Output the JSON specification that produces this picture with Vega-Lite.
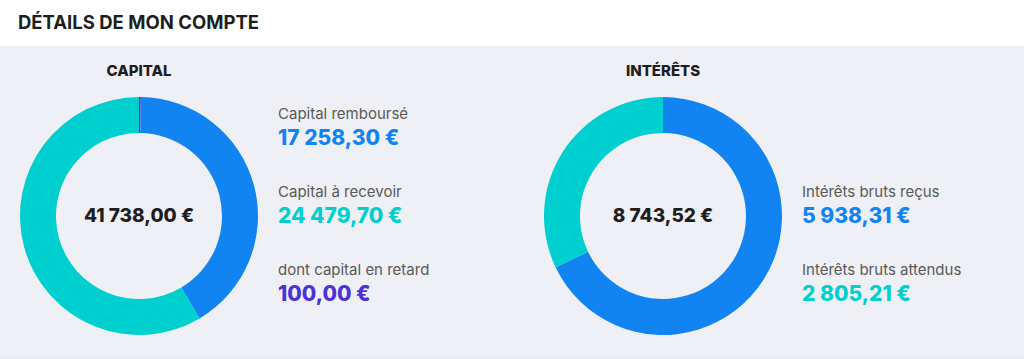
{
  "$schema": "https://vega.github.io/schema/vega-lite/v6.json",
  "background": "#eff0f5",
  "padding": 0,
  "spacing": 0,
  "config": {
    "view": {"stroke": null},
    "concat": {"spacing": 0},
    "font": "Inter",
    "locale": {"number": {"decimal": ",", "thousands": "\u00a0", "grouping": [3], "currency": ["", "\u00a0€"]}}
  },
  "datasets": {
    "header": [{"titre": "DÉTAILS DE MON COMPTE"}],
    "sections": [
      {"section": "capital", "titre": "CAPITAL", "total": 41738.00},
      {"section": "interets", "titre": "INTÉRÊTS", "total": 8743.52}
    ],
    "capital": [
      {"part": "retard", "libelle": "dont capital en retard", "montant": 100.00, "ordre": 1, "ligne": 3},
      {"part": "rembourse", "libelle": "Capital remboursé", "montant": 17258.30, "ordre": 2, "ligne": 1},
      {"part": "recevoir", "libelle": "Capital à recevoir", "montant": 24479.70, "ordre": 3, "ligne": 2}
    ],
    "interets": [
      {"part": "recus", "libelle": "Intérêts bruts reçus", "montant": 5938.31, "ordre": 1, "ligne": 2},
      {"part": "attendus", "libelle": "Intérêts bruts attendus", "montant": 2805.21, "ordre": 2, "ligne": 3}
    ]
  },
  "vconcat": [
    {
      "data": {"name": "header"},
      "width": 1024,
      "height": 46,
      "view": {"fill": "white", "stroke": null},
      "mark": {"type": "text", "align": "left", "baseline": "middle", "dx": 18, "fontSize": 18.5, "fontWeight": 700, "color": "#1e1e1e"},
      "encoding": {
        "x": {"datum": 0, "type": "quantitative", "scale": {"domain": [0, 1]}, "axis": null},
        "text": {"field": "titre"}
      }
    },
    {
      "spacing": 0,
      "hconcat": [
        {
          "spacing": 0,
          "vconcat": [
            {
              "data": {"name": "sections"},
              "transform": [{"filter": "datum.section === 'capital'"}],
              "width": 278,
              "height": 51,
              "mark": {"type": "text", "baseline": "middle", "dy": -1, "fontSize": 15, "fontWeight": 800, "color": "#1e1e1e"},
              "encoding": {"text": {"field": "titre"}}
            },
            {
              "width": 278,
              "height": 238,
              "layer": [
                {
                  "data": {"name": "capital"},
                  "mark": {"type": "arc", "innerRadius": 83, "outerRadius": 119},
                  "encoding": {
                    "theta": {"field": "montant", "type": "quantitative", "stack": true},
                    "order": {"field": "ordre", "type": "quantitative"},
                    "color": {"field": "part", "type": "nominal", "legend": null,
                      "scale": {"domain": ["rembourse", "recevoir", "retard", "recus", "attendus"], "range": ["#1284f2", "#00cfcf", "#4a32d8", "#1284f2", "#00cfcf"]}}
                  }
                },
                {
                  "data": {"name": "sections"},
                  "transform": [{"filter": "datum.section === 'capital'"}],
                  "mark": {"type": "text", "baseline": "middle", "fontSize": 19, "fontWeight": 800, "color": "#1e1e1e"},
                  "encoding": {"text": {"field": "total", "type": "quantitative", "format": "$,.2f"}}
                }
              ]
            }
          ]
        },
        {
          "data": {"name": "capital"},
          "width": 246,
          "height": 307,
          "encoding": {
            "x": {"datum": 0, "type": "quantitative", "scale": {"domain": [0, 1]}, "axis": null},
            "y": {"field": "ligne", "type": "ordinal", "scale": {"type": "point", "domain": [1, 2, 3], "padding": 0.968, "align": 0.536}, "axis": null}
          },
          "layer": [
            {
              "mark": {"type": "text", "align": "left", "baseline": "middle", "dy": -12.5, "fontSize": 15, "color": "#595959"},
              "encoding": {"text": {"field": "libelle"}}
            },
            {
              "mark": {"type": "text", "align": "left", "baseline": "middle", "dy": 12.5, "fontSize": 21, "fontWeight": 800},
              "encoding": {
                "text": {"field": "montant", "type": "quantitative", "format": "$,.2f"},
                "color": {"field": "part", "type": "nominal", "legend": null,
                  "scale": {"domain": ["rembourse", "recevoir", "retard", "recus", "attendus"], "range": ["#1284f2", "#00cfcf", "#4a32d8", "#1284f2", "#00cfcf"]}}
              }
            }
          ]
        },
        {
          "spacing": 0,
          "vconcat": [
            {
              "data": {"name": "sections"},
              "transform": [{"filter": "datum.section === 'interets'"}],
              "width": 278,
              "height": 51,
              "mark": {"type": "text", "baseline": "middle", "dy": -1, "fontSize": 15, "fontWeight": 800, "color": "#1e1e1e"},
              "encoding": {"text": {"field": "titre"}}
            },
            {
              "width": 278,
              "height": 238,
              "layer": [
                {
                  "data": {"name": "interets"},
                  "mark": {"type": "arc", "innerRadius": 83, "outerRadius": 119},
                  "encoding": {
                    "theta": {"field": "montant", "type": "quantitative", "stack": true},
                    "order": {"field": "ordre", "type": "quantitative"},
                    "color": {"field": "part", "type": "nominal", "legend": null,
                      "scale": {"domain": ["rembourse", "recevoir", "retard", "recus", "attendus"], "range": ["#1284f2", "#00cfcf", "#4a32d8", "#1284f2", "#00cfcf"]}}
                  }
                },
                {
                  "data": {"name": "sections"},
                  "transform": [{"filter": "datum.section === 'interets'"}],
                  "mark": {"type": "text", "baseline": "middle", "fontSize": 19, "fontWeight": 800, "color": "#1e1e1e"},
                  "encoding": {"text": {"field": "total", "type": "quantitative", "format": "$,.2f"}}
                }
              ]
            }
          ]
        },
        {
          "data": {"name": "interets"},
          "width": 222,
          "height": 307,
          "encoding": {
            "x": {"datum": 0, "type": "quantitative", "scale": {"domain": [0, 1]}, "axis": null},
            "y": {"field": "ligne", "type": "ordinal", "scale": {"type": "point", "domain": [1, 2, 3], "padding": 0.968, "align": 0.536}, "axis": null}
          },
          "layer": [
            {
              "mark": {"type": "text", "align": "left", "baseline": "middle", "dy": -12.5, "fontSize": 15, "color": "#595959"},
              "encoding": {"text": {"field": "libelle"}}
            },
            {
              "mark": {"type": "text", "align": "left", "baseline": "middle", "dy": 12.5, "fontSize": 21, "fontWeight": 800},
              "encoding": {
                "text": {"field": "montant", "type": "quantitative", "format": "$,.2f"},
                "color": {"field": "part", "type": "nominal", "legend": null,
                  "scale": {"domain": ["rembourse", "recevoir", "retard", "recus", "attendus"], "range": ["#1284f2", "#00cfcf", "#4a32d8", "#1284f2", "#00cfcf"]}}
              }
            }
          ]
        }
      ]
    },
    {
      "data": {"name": "header"},
      "width": 1024,
      "height": 6,
      "view": {"fill": "#e8ebf3", "stroke": null},
      "mark": {"type": "text"},
      "encoding": {"text": {"value": ""}}
    }
  ]
}
